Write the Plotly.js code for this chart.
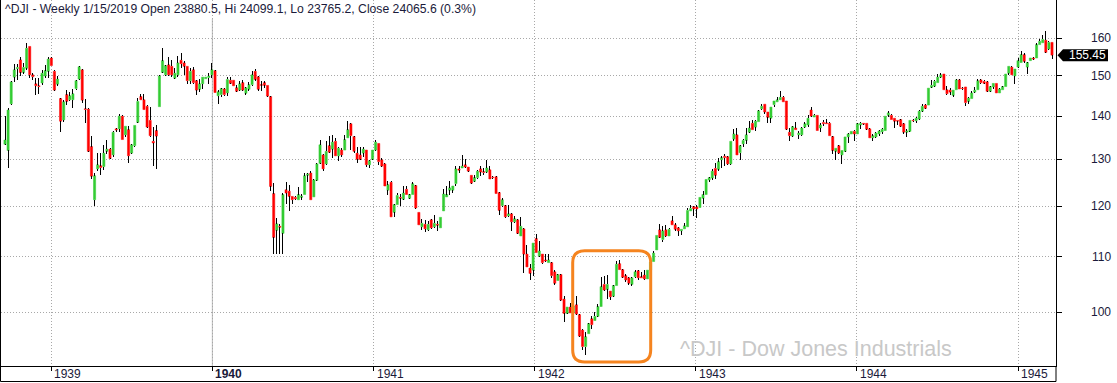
<!DOCTYPE html>
<html>
<head>
<meta charset="utf-8">
<script src="https://cdn.plot.ly/plotly-3.0.1.min.js"></script>
<style>
html,body{margin:0;padding:0;background:#fff;}
#chart{width:1117px;height:383px;}
.scatterlayer path{shape-rendering:crispEdges;}
</style>
</head>
<body>
<div id="chart"></div>
<script>
// Weekly DJIA candles, first week starting 1938-09-18
const firstWeek = '1938-09-18';

const openP = [
133.4,132,143,149.7,151.9,154.2,150.9,152,157.8,150.3,
148,147.5,148.2,150,151.2,154.7,151.2,147.9,144.3,139.1,
145.3,144,144,146.8,149.2,151.6,141.8,141.7,132.9,121.3,
127.9,128.6,128.4,131.8,132.3,131,137,137,140,135.6,
136.8,131.4,133.1,138.5,144.8,144,142.4,139,134.1,136.6,
142.3,150.9,150.3,152.9,152.5,149.4,150.3,154.1,153.4,152.5,
148.8,151.6,148.8,146.6,148,149.3,149.6,150.3,151.4,145,
145.3,146.7,145.7,148.9,148.9,147,146.4,148.3,145.6,146.6,
147.8,151.2,149.8,147.8,148.3,147.6,144.8,122.6,115.1,115.9,
114.5,123.4,123.1,122,121.8,121.3,121.8,122.4,126.5,127,
121.9,125.4,129.1,131,129,133.1,132.3,134.1,130.8,132.1,
132.1,134.9,138.2,135.2,131.4,131,131.4,132.1,128.8,130,
132.1,133.6,129.9,129,123.3,125,118.7,120.3,121.8,121.4,
123.5,121.6,122.4,124.3,118.7,115.8,116.3,115.2,117.2,115.8,
116.3,115.6,119,121.9,123.3,123.3,124.7,127.9,128.1,128.8,
128.3,126.5,125.2,126,127.9,127.3,127.2,127.7,126.1,126.2,
122.8,120.1,120.1,118,118.4,116.8,117.2,114,115.4,110.5,
107.9,107.5,113.5,110.1,110.5,109.4,108.9,108.9,107.2,105.6,
106.7,102.3,99.8,100.9,99.9,101.3,99.6,97,94.3,96.4,
98.9,98.6,99.3,101,104.9,104,103.7,102.8,104.7,108.7,
107.6,106.5,106.1,104.9,106.3,107.4,106.3,106.6,105.9,107.5,
109.1,111.3,115.2,113.3,115.2,114,117,116.2,115.6,115,
115.4,115.8,119,119.9,119.8,119.7,121.6,122.4,125.5,125.9,
128,127.8,129.9,130.7,130.6,129,134.6,135.6,131.5,133.5,
134.3,136.2,138.3,137.4,138.7,141.8,142.9,141,139.5,142.8,
143.5,144,144.6,143.7,136.2,135.3,137.2,135.6,135.6,137.4,
137.9,141.5,139.8,140.2,137.2,138.5,138.4,138.3,135.2,131.8,
133.1,131,131.8,135.1,135.8,136.4,135.8,137.9,138.3,138.3,
137,134.9,135.1,135.8,136.3,136.6,140.2,140.2,139.5,139,
139.2,138.2,136.2,136.4,139,138.9,139.3,141.2,142.7,142.7,
147.1,147.4,148.3,149.7,150.5,146.5,146.4,145.1,146.5,149,
146.9,147.2,143.6,144.3,145.9,146.5,149,148.6,148.5,146.1,
147.2,148.1,145.7,146.5,147.3,150.7,152.3,150,152.3,153.5,
155.6,152.3,154,154.7,154.7,158.3,158.8,159.5,157.1,158.9
];

const highP = [
140,142,148.8,153,153,155,153.4,158.7,157.8,150.7,
149.4,149.6,151.5,152.9,155,155,151.6,150,144.5,144,
146.4,146,146.6,148.9,152.5,151.8,144.3,142,135.4,127.1,
131.4,131.4,133.2,134.5,132.6,136.4,137.3,140.5,140.2,137.7,
137.6,133.4,138,144.4,145.5,145.5,142.6,142.2,137.5,138,
150.3,157.3,152.8,154.9,154.2,152,155.1,156,153.8,152.6,
152,152.2,148.9,149.2,149.8,149.8,150.7,153.4,151.5,146.5,
146.9,146.9,149.8,149.8,149,147.8,148.6,148.9,147.1,148.4,
151.2,151.8,149.9,148.8,148.8,147.7,144.9,124.8,117.5,116.4,
122.7,125.1,124.5,122.1,122,123.9,122.6,126.9,126.9,127.5,
125.6,129.1,134.4,131.1,134.1,135.4,135.6,134.9,132.9,132.5,
135.6,138.8,138.4,135.3,132.7,132.9,132.9,132.2,129.8,132.2,
134.4,133.8,130.2,129.1,125.2,125.2,120.4,122.7,122.5,124.2,
124.2,122.5,125,124.4,118.8,117.3,117.2,117,117.3,118.1,
117,117.8,123.5,124.3,125.2,124.3,128.6,128.6,130.9,130,
128.4,126.6,126.5,127.7,128.6,128,129.9,128.6,126.4,126.3,
122.9,121.7,120.2,120.3,118.5,118,117.3,117.8,115.5,112.2,
108.6,112.7,114.4,113.1,110.6,110.6,110.6,109,107.5,106.8,
106.8,102.9,101,101.6,102.8,102.8,99.7,97.1,96.7,98.2,
99.3,100.1,101.5,106.3,106.5,106.7,103.8,104.8,109.2,109.3,
107.8,106.8,106.2,106.3,107.6,107.6,107.1,107.6,107.6,109.2,
111,114.2,116.3,116,116.2,115.6,118,116.6,115.7,115.4,
116.6,119.5,120.2,120,120.2,121.8,123.2,125.7,126.2,127.8,
129.1,130.2,130.7,131.1,130.7,134.2,136.9,137.2,133.2,134.6,
137.2,138.9,139.1,139.2,141.4,143,143,141.1,142.3,143.8,
144.8,146.1,145,143.8,137.3,137.6,138.6,136.4,137.4,138.5,
140.2,142.2,140.6,140.3,138.3,139.2,139.4,138.5,135.3,132.6,
133.2,132.1,135.2,136,136.5,136.8,138.4,138.7,138.4,138.4,
137.1,135.8,136.2,136.8,137.1,140.1,141.3,140.5,139.6,139.2,
139.3,138.3,137,139.1,139.3,139.9,141.6,143,143,147,
149,149,150.5,150.7,150.6,147.4,147,146.5,149.1,149.1,
147.3,147.3,144.8,146.1,147.1,149.1,149.1,149,148.6,147.4,
148.2,148.2,146.9,147.4,150.6,152.6,152.5,151.9,154.7,156.5,
156,153.6,154.8,155,158.6,159.8,160.9,162.1,159.2,159
];

const lowP = [
133.2,128,142.8,148.5,149,150,150.4,151.6,149.4,148.9,
145.3,145.5,147.8,149.4,149.4,152.5,146.1,147.4,136.2,138.7,
142.8,143.6,142,146.4,149,143.1,138.4,131.6,125.7,120.1,
127.5,126.6,127.7,131.3,130,130.6,136.3,136.3,134.4,135.2,
129.1,131.3,132.9,138.4,143.9,141.4,137.2,135.1,128.5,127.8,
142.2,150.7,150.1,150,149.8,149.1,149.8,152,150.3,147.9,
147.9,147.9,145.1,146,146.8,149.2,148,149.4,145.6,143,
144.8,145,144.9,148,147.4,146,146.1,146.1,145.3,146.1,
147.4,148.6,146.1,146.1,147,144.8,123.1,110.5,110.5,110.5,
110.5,120.4,118.9,120.4,121.2,121.2,121.2,122.3,125,121.2,
121.8,125.2,129,127.4,128.8,131.5,130.2,130.7,129.6,130.6,
132,134.8,132.1,131.5,129.2,129.9,130.6,128.4,128,129.9,
131.9,128.8,128.3,124.1,122.4,117.7,117.8,120.2,120.1,121.3,
122.3,121.5,122.3,119.4,116.1,115.2,114.8,115,115.4,115.6,
115,115.5,118.9,121.8,122.4,122.7,124.2,127,128,128.1,
127.3,124.7,125,125.8,126.3,126.5,127,125.6,125.8,122.5,
118.1,119.9,117.6,117.8,115,116.6,114.4,113.9,107,108,
105.7,106.4,110.7,110,108.6,109,108.8,106.1,104.8,105.5,
102,98.4,99.7,99.8,98.4,99.6,95.9,93.8,92.9,96.3,
97.2,98.5,99.2,100.9,103.8,102.3,102.1,102.7,104.6,107.5,
106,105.4,104.8,104.7,106.1,105.7,106,105.7,105.8,107.3,
109,111.2,113.6,112.9,113.8,113.9,116.1,115,114,114.1,
115.3,115.7,118.9,118,117.6,119.5,120.5,122.3,125,125.5,
125.8,127.4,128,128.5,128.8,128.8,134.1,130.9,129.8,132.9,
133.5,136.1,136.7,136.4,138.6,141.6,140.6,138.3,138.3,142.2,
143.4,143.9,143.4,136.7,134.1,135.1,136.7,134.6,135.3,137.2,
137.4,139.8,139.7,136.4,136.2,137.7,138.1,135.3,131.1,129.8,
131.2,128.9,131.7,133.6,135.7,134.2,135.7,136.9,138,136.8,
134.8,134.2,134.9,135.4,135.8,136.5,139.8,139.1,137.2,137.8,
137.4,135.7,135,136.2,138.6,138.4,139.2,141,141.7,142.6,
147,147.3,148.2,149.4,146.4,145.3,145.1,144.8,146.4,146.6,
146.5,142.5,142.9,144.1,145.7,146.4,148,148,145.9,145.9,
146.7,145.6,145.6,146.4,147.2,150.3,150.2,148,152,153.4,
153.5,150.5,153.9,154.2,154.6,158.1,158.6,156.1,156.8,154.4
];

const closeP = [
134.4,141.5,148.5,151.6,152.2,150.9,152.2,157.3,150.3,149.8,
147.5,147.3,150.7,151.4,154.4,152.7,146.4,149.2,138.8,143.5,
143.6,145,145.5,148.8,152.4,143.9,141.6,131.8,126.3,126.4,
128.8,128.2,131.4,132.3,130.2,136.2,136.7,140,134.5,137.6,
130.8,133.3,137.8,143.6,144,141.6,137.4,135.4,133.7,135.3,
150,154,152.7,150.3,150.3,150.7,153.4,153.2,152.5,148.8,
151.2,148.3,146.4,148,149.7,149.7,150,151.6,145.8,146,
146.8,145.3,149.1,148.1,147.5,146.1,148,146.4,147,147.8,
150.3,149.1,146.6,147.6,147.6,144.9,124.1,113.7,116.4,115.7,
122.4,122.7,122,121.3,121.5,122.4,122.1,126.4,126.8,121.3,
125.5,129,133.3,127.9,131.8,131.6,133.9,130.8,132.5,131,
134.5,136.8,135.4,131.8,130,130,132.3,128.8,129.7,132.1,
133.9,129.5,128.5,124.2,124.5,117.8,120.3,122.2,121.6,122.7,
122.4,122.4,124.7,119.6,116.2,116.5,115.4,116.3,115.6,116.5,
116.1,117.7,122.5,122.4,123.8,124.2,127.9,127.6,128.5,128.3,
127.4,124.8,126,127.4,127.2,127.1,128.1,125.7,126,122.6,
119.1,121.3,117.8,118.4,116.8,117.4,114.5,115.9,110.5,108.1,
106.9,112.6,110.8,111.1,108.9,109.2,109.4,106.5,105.1,106.7,
102.1,99.8,100.9,99.9,101.1,99.7,96,94.3,95.9,98.1,
97.9,99.3,101,104.5,103.9,104.9,102.7,104.7,108.6,107.6,
106.2,105.7,105.1,106.1,107.2,106.1,106.1,105.9,107.5,109,
110.7,114.1,113.7,115,114,115.3,116.2,115.3,115,115.3,
116,119.1,119.5,119.4,119.4,121.8,122.4,125.6,126,127.4,
126.5,129.5,130.4,130.4,129,134.1,135.8,131,133.1,134.3,
135.6,137.2,136.8,138.8,141.3,142.4,141,139.7,142.2,143.7,
144,144.6,143.5,136.9,135.4,137.5,136.8,136,137.2,138.2,
139.5,140,140.2,136.6,137.9,138.2,138.2,135.4,132,132.5,
131.4,132,135.1,135.8,136.4,135.8,138.2,138.3,138.1,136.9,
134.9,135.4,136,136.5,136.9,140,140.8,139.2,138.8,138.8,
137.6,136.2,136.5,139,138.9,139.5,141.2,142.4,141.9,146.9,
147.6,148.6,149.7,150.3,146.5,145.5,145.9,146.4,149,146.7,
146.8,143.3,144.4,145.7,146.4,148.8,148.3,148.1,146.1,147.3,
148.1,145.7,146.7,147.3,150.5,152.5,150.3,151.8,154,155.6,
153.8,153.5,154.7,154.4,158.3,159.2,159.7,156.2,158.9,155.45
];

const yearTicks = ['1939-01-01','1940-01-01','1941-01-01','1942-01-01','1943-01-01','1944-01-01','1945-01-01'];
const yearLabels = ['1939','<b>1940</b>','1941','1942','1943','1944','1945'];
const priceTicks = [100,110,120,130,140,150,160];
const priceLabels = ['100','110','120','130','140','150','160'];
const titleText = '^DJI - Weekly 1/15/2019 Open 23880.5, Hi 24099.1, Lo 23765.2, Close 24065.6 (0.3%)';
const watermarkText = '^DJI - Dow Jones Industrials';

// ---- build traces ----
const DAY = 86400000;
const t0 = Date.parse(firstWeek + 'T00:00:00Z');
const fmt = ms => new Date(ms).toISOString().replace('T',' ').slice(0,19);
const dates = closeP.map((_, i) => fmt(t0 + i * 7 * DAY));

const UP = '#33cc33', DOWN = '#ff0000';
const bodyBase = [], bodySize = [], bodyColor = [];
const wx = [], wy = [];
for (let i = 0; i < closeP.length; i++) {
  const o = openP[i], c = closeP[i];
  const top = Math.max(o, c), bot = Math.min(o, c);
  bodyBase.push(bot);
  bodySize.push(top - bot);
  bodyColor.push(c >= o ? UP : DOWN);
  wx.push(dates[i], dates[i], null, dates[i], dates[i], null);
  wy.push(highP[i], top, null, bot, lowP[i], null);
}

const wicks = {
  type: 'scatter', mode: 'lines', x: wx, y: wy,
  line: {color: '#000', width: 1}, hoverinfo: 'skip', connectgaps: false
};
const bodies = {
  type: 'bar', x: dates, y: bodySize, base: bodyBase,
  width: 0.7 * 7 * DAY,
  marker: {color: bodyColor, line: {color: bodyColor, width: 0.5}},
  hoverinfo: 'skip'
};

// ---- geometry helpers (plot area: 1055 x 366 px) ----
const PW = 1055, PH = 366, L = 1;
const yr0 = 1.96, yr1 = 2.2327;
const px = x => (x - L) / PW;
const py = y => (PH - y) / PH;
const pv = v => (Math.log10(v) - yr0) / (yr1 - yr0);
const lastClose = closeP[closeP.length - 1];
const yc = pv(lastClose);
const yh = 6 / PH;

const xStart = fmt(t0 - 9.07 * DAY);
const xEnd = fmt(t0 + (closeP.length - 1) * 7 * DAY + 9.07 * DAY);

const FONT = 'Arial, "Liberation Sans", Helvetica, sans-serif';
const TXT = '#1a1a3a';

// orange rounded box
const bx0 = px(572.7), bx1 = px(650.7), by0 = py(362), by1 = py(250.7);
const rx = 12 / PW, ry = 12 / PH;
const boxPath = `M ${bx0+rx},${by1} L ${bx1-rx},${by1} Q ${bx1},${by1} ${bx1},${by1-ry} ` +
  `L ${bx1},${by0+ry} Q ${bx1},${by0} ${bx1-rx},${by0} L ${bx0+rx},${by0} ` +
  `Q ${bx0},${by0} ${bx0},${by0+ry} L ${bx0},${by1-ry} Q ${bx0},${by1} ${bx0+rx},${by1} Z`;

const tagPath = `M ${px(1057.5)},${yc} L ${px(1063)},${yc+yh} L ${px(1108)},${yc+yh} ` +
  `L ${px(1108)},${yc-yh} L ${px(1063)},${yc-yh} Z`;

const bottomY = py(381.5);

const annotations = [
  {xref: 'paper', yref: 'paper', x: 0, y: 1, xanchor: 'left', yanchor: 'top',
   xshift: 2, yshift: 0, showarrow: false, text: titleText,
   font: {family: FONT, size: 12.2, color: TXT}},
  {xref: 'paper', yref: 'paper', x: px(678), y: py(349), xanchor: 'left', yanchor: 'middle',
   showarrow: false, text: watermarkText,
   font: {family: FONT, size: 21.5, color: '#c8c8c8'}},
  {xref: 'paper', yref: 'paper', x: px(1087), y: yc, xanchor: 'center', yanchor: 'middle',
   showarrow: false, text: lastClose.toFixed(2),
   font: {family: FONT, size: 12, color: '#fff'}}
];
// y-axis labels, right-aligned near the right edge
priceTicks.forEach((v, i) => annotations.push({
  xref: 'paper', yref: 'paper', x: px(1113), y: pv(v), xanchor: 'right', yanchor: 'middle',
  showarrow: false, text: priceLabels[i], font: {family: FONT, size: 12, color: TXT}
}));
// x-axis labels, left-aligned just after each year tick
yearTicks.forEach((d, i) => annotations.push({
  xref: 'x', yref: 'paper', x: d, y: py(373.5), xanchor: 'left', yanchor: 'middle',
  xshift: 1, showarrow: false, text: yearLabels[i], font: {family: FONT, size: 12, color: TXT}
}));

const layout = {
  width: 1117, height: 383,
  margin: {l: L, r: 61, t: 0, b: 17, pad: 0},
  paper_bgcolor: '#fff', plot_bgcolor: '#fff',
  showlegend: false,
  xaxis: {
    type: 'date', range: [xStart, xEnd], fixedrange: true,
    tickmode: 'array', tickvals: yearTicks, showticklabels: false,
    ticks: 'outside', ticklen: 4, tickwidth: 1, tickcolor: '#000',
    showgrid: true, gridcolor: '#a8a8a8', gridwidth: 1, griddash: '1px,2px',
    showline: true, linecolor: '#000', linewidth: 1, zeroline: false
  },
  yaxis: {
    type: 'log', side: 'right', range: [yr0, yr1], fixedrange: true,
    tickmode: 'array', tickvals: priceTicks, showticklabels: false,
    ticks: 'outside', ticklen: 5, tickwidth: 1, tickcolor: '#000',
    showgrid: true, gridcolor: '#a8a8a8', gridwidth: 1, griddash: '1px,2px',
    showline: true, linecolor: '#000', linewidth: 1, zeroline: false
  },
  shapes: [
    {type: 'rect', xref: 'paper', yref: 'paper', x0: 0, x1: 1, y0: py(21), y1: 1,
     fillcolor: '#fff', line: {width: 0}, layer: 'between'},
    {type: 'line', xref: 'x', yref: 'paper', x0: yearTicks[1], x1: yearTicks[1], y0: 0, y1: py(19),
     line: {color: '#b8b8b8', width: 1}, layer: 'between'},
    {type: 'path', xref: 'paper', yref: 'paper', path: boxPath,
     line: {color: '#f5841f', width: 3}, fillcolor: 'rgba(0,0,0,0)', layer: 'above'},
    {type: 'path', xref: 'paper', yref: 'paper', path: tagPath,
     line: {width: 0}, fillcolor: '#000', layer: 'above'},
    {type: 'line', xref: 'paper', yref: 'paper', x0: px(0.5), x1: px(0.5), y0: bottomY, y1: 1,
     line: {color: '#000', width: 1}},
    {type: 'line', xref: 'paper', yref: 'paper', x0: px(0.5), x1: 1, y0: bottomY, y1: bottomY,
     line: {color: '#000', width: 1}},
    {type: 'line', xref: 'paper', yref: 'paper', x0: 1, x1: 1, y0: 0, y1: bottomY,
     line: {color: '#000', width: 1}}
  ],
  annotations: annotations
};

Plotly.newPlot('chart', [bodies, wicks], layout, {displayModeBar: false, staticPlot: true});
</script>
</body>
</html>
